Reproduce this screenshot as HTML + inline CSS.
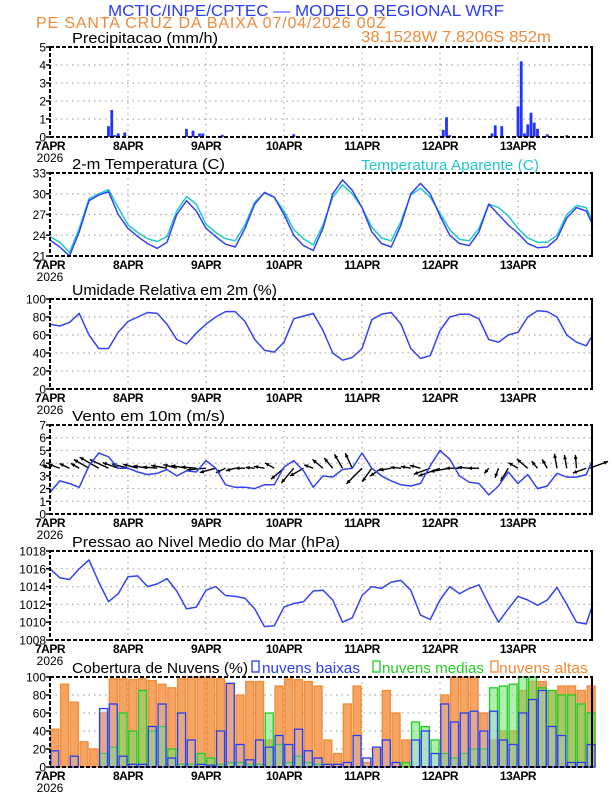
<!DOCTYPE html>
<html><head><meta charset="utf-8"><style>
html,body{margin:0;padding:0;background:#fff;}
svg{display:block;font-family:"Liberation Sans",sans-serif;}
</style></head><body>
<svg id="chart" width="612" height="792" viewBox="0 0 612 792" xmlns="http://www.w3.org/2000/svg">
<text x="108" y="16" font-size="16" fill="#2b3cf5" textLength="396" lengthAdjust="spacingAndGlyphs">MCTIC/INPE/CPTEC — MODELO REGIONAL WRF</text>
<text x="36" y="28" font-size="16" fill="#f08a3a" textLength="350" lengthAdjust="spacing">PE SANTA CRUZ DA BAIXA   07/04/2026 00Z</text>
<text x="361" y="42" font-size="16" fill="#f08a3a" textLength="190" lengthAdjust="spacingAndGlyphs">38.1528W 7.8206S 852m</text>
<g id="layer"></g>
</svg>
<script>
// ---- data (3-hourly from 07APR 00Z) ----
const tempHours = [0,3,6,9,12,15,18,21,24,27,30,33,36,39,42,45,48,51,54,57,60,63,66,69,72,75,78,81,84,87,90,93,96,99,102,105,108,111,114,117,120,123,126,129,132,135,138,141,144,147,150,153,156,159,162,165,168];
const temp2m = [23.3,22.3,21.0,24.5,29.0,29.8,30.3,27.0, 25.0,23.8,22.8,22.1,23.0,27.0,29.0,27.5, 25.0,23.8,22.7,22.3,25.0,28.5,30.2,29.5, 27.0,24.0,22.5,21.8,25.0,30.0,32.0,30.5, 28.0,24.5,22.8,22.3,25.5,30.0,31.5,30.0, 26.8,24.0,22.8,22.5,24.5,28.5,27.0,25.5, 24.3,22.8,22.2,22.3,23.5,26.5,28.0,27.5, 25.5];
const tempApparent = [23.8,23.0,21.5,25.0,29.3,30.0,30.6,28.0, 25.5,24.4,23.5,23.1,23.8,27.5,29.6,28.5, 25.6,24.4,23.5,23.2,25.5,28.8,30.1,29.5, 27.5,24.8,23.5,22.6,25.5,29.5,31.3,30.0, 28.0,25.2,23.6,23.2,26.0,29.8,30.8,29.5, 27.2,24.8,23.4,23.2,25.0,28.5,28.0,26.8, 25.0,23.6,23.0,23.0,24.0,27.0,28.3,28.0, 26.0];
const humidity = [72,70,74,84,60,45,45,63, 75,80,85,84,72,55,50,62, 72,80,86,86,75,55,43,41, 52,78,81,84,65,40,32,35, 45,77,83,85,72,45,34,37, 65,80,83,83,78,55,52,60, 63,80,87,86,80,60,52,48, 60];
const windSpeed = [1.7,2.6,2.4,2.1,3.8,4.8,4.5,3.6, 3.6,3.3,3.1,3.2,3.5,3.0,3.4,3.3, 4.2,3.6,2.3,2.1,2.1,2.0,2.3,2.3, 3.7,4.2,3.4,2.1,3.0,2.9,3.5,3.6, 4.8,3.6,3.0,2.6,2.3,2.2,2.4,3.8, 5.0,4.3,3.0,2.5,2.4,1.5,2.2,3.3, 2.4,3.1,2.0,2.2,3.2,2.9,2.9,3.1, 4.3];
const windDir = [160,160,155,150,150,150,155,160, 165,165,170,175,170,165,170,175, 185,195,205,195,180,175,170,150, 220,230,210,160,140,130,120,115, 225,235,215,190,175,170,165,200, 200,190,180,175,180,230,250,240, 150,140,130,120,100,100,95,200, 20];
const pressure = [1016,1015,1014.8,1016,1017,1014.5,1012.3,1013.2, 1015.1,1015.2,1014,1014.3,1014.9,1013.5,1011.5,1011.7, 1013.6,1014,1013,1012.9,1012.7,1011.5,1009.5,1009.6, 1011.7,1012.1,1012.3,1013.5,1013.6,1012.5,1010,1010.5, 1013,1014,1013.8,1014.5,1014.7,1013.6,1010.8,1010.3, 1012.5,1014,1013.2,1013.8,1014.2,1012,1010,1011.5, 1012.9,1012.5,1011.9,1012.5,1013.9,1012,1010,1009.8, 1012];
const precipHours = [18,19,20,21,23,36,42,44,46,47,53,60,75,84,121,122,123,136,137,139,144,145,146,147,148,149,150,152,153,159];
const precipVals = [0.6,1.5,0.1,0.2,0.25,0.05,0.45,0.35,0.2,0.2,0.12,0.06,0.15,0.05,0.4,1.1,0.1,0.2,0.65,0.6,1.7,4.2,0.2,0.7,1.35,0.8,0.45,0.05,0.15,0.1];
const cloudHours = [0,3,6,9,12,15,18,21,24,27,30,33,36,39,42,45,48,51,54,57,60,63,66,69,72,75,78,81,84,87,90,93,96,99,102,105,108,111,114,117,120,123,126,129,132,135,138,141,144,147,150,153,156,159,162,165];
const cloudHigh = [42,92,72,28,20,60,98,98, 97,98,96,92,88,98,100,100, 100,98,92,80,95,95,30,90, 98,97,95,90,30,15,70,90, 5,20,85,60,30,0,0,0, 80,100,100,100,60,30,40,40, 85,95,95,85,90,90,85,90];
const cloudMid = [0,0,0,0,0,15,22,60, 40,85,40,45,20,3,3,15, 10,3,5,5,3,3,60,25, 5,12,5,3,0,0,0,0, 0,0,0,0,5,50,45,30, 15,10,15,20,20,88,90,92, 100,100,88,85,80,80,70,60];
const cloudLow = [18,0,12,0,0,65,70,12, 3,3,45,70,10,60,30,3, 2,40,93,25,8,30,22,35, 25,42,18,10,3,3,5,35, 10,22,30,5,0,30,40,15, 70,50,60,62,40,62,30,25, 60,75,85,45,35,5,5,25];
const dayLabels = ["7APR","8APR","9APR","10APR","11APR","12APR","13APR"];

// ---- layout ----
const X0 = 50, X1 = 592, PX_PER_H = 3.25;
const xs = h => X0 + h * PX_PER_H;
const NS = "http://www.w3.org/2000/svg";
const layer = document.getElementById("layer");
function mk(tag, attrs, parent) {
  const e = document.createElementNS(NS, tag);
  for (const k in attrs) e.setAttribute(k, attrs[k]);
  (parent || layer).appendChild(e);
  return e;
}
const panels = [
  {key:"precip", top:47, bottom:137, min:0, max:5, ticks:[0,1,2,3,4,5]},
  {key:"temp", top:173, bottom:256, min:21, max:33, ticks:[21,24,27,30,33]},
  {key:"humidity", top:299, bottom:389, min:0, max:100, ticks:[0,20,40,60,80,100]},
  {key:"wind", top:425, bottom:514, min:0, max:7, ticks:[0,1,2,3,4,5,6,7]},
  {key:"pressure", top:551, bottom:640, min:1008, max:1018, ticks:[1008,1010,1012,1014,1016,1018]},
  {key:"clouds", top:677, bottom:767, min:0, max:100, ticks:[0,20,40,60,80,100]}
];
const titles = ["Precipitacao (mm/h)","2-m Temperatura (C)","Umidade Relativa em 2m (%)","Vento em 10m (m/s)","Pressao ao Nivel Medio do Mar (hPa)","Cobertura de Nuvens (%)"];
const titleW = [146,153,205,153,268,176];
function yScale(p){ return v => p.bottom - (v - p.min) / (p.max - p.min) * (p.bottom - p.top); }

panels.forEach((p, i) => {
  const ys = yScale(p);
  const g = mk("g", {});
  
  
  p.ticks.forEach(t => {
    if (t === p.min || t === p.max) return;
    const l = mk("line", {x1:X0, x2:X1, y1:ys(t), y2:ys(t), stroke:"#aaa", "stroke-dasharray":"1.5,4", "stroke-width":1.2}, g);
    
    
  });
  for (let d = 1; d < 7; d++) {
    const l = mk("line", {x1:xs(d*24), x2:xs(d*24), y1:p.top, y2:p.bottom, stroke:"#aaa", "stroke-dasharray":"1.5,4", "stroke-width":1.2}, g);
    
    
  }
  p.ticks.forEach(t => {
    const tx = mk("text", {x:46, y:ys(t)+4.5, "text-anchor":"end", "font-size":12}, g);
    tx.textContent = t;
    
    
    const tk = mk("line", {x1:X0-4, x2:X0, y1:ys(t), y2:ys(t), stroke:"#000", "stroke-width":1.5}, g);
    
    
  });
  dayLabels.forEach((lab, d) => {
    const tx = mk("text", {x:xs(d*24), y:p.bottom+13, "text-anchor":"middle", "font-size":12, "font-weight":"bold", "letter-spacing":"-0.5"}, g);
    tx.textContent = lab;
    
    
  });
  const yr = mk("text", {x:X0, y:p.bottom+25, "text-anchor":"middle", "font-size":12}, g);
  yr.textContent = "2026";
  
  
  const tt = mk("text", {x:72, y:p.top-4, "font-size":15, textLength:titleW[i], lengthAdjust:"spacingAndGlyphs"}, g);
  tt.textContent = titles[i];
  
  
  p.g = g; p.ys = ys;
});

function line(p, hours, vals, color, name) {
  const pts = hours.map((h, i) => xs(Math.min(h, 167)) + "," + p.ys(vals[i]).toFixed(1)).join(" ");
  const pl = mk("polyline", {points:pts, fill:"none", stroke:color, "stroke-width":1.5, "stroke-linejoin":"round"}, p.g);
  
  
}

const P = panels;
precipHours.forEach((h, i) => {
  const y = P[0].ys(precipVals[i]);
  const r = mk("rect", {x:xs(h)-1.4, y:y, width:2.8, height:P[0].bottom - y, fill:"#2233ff"}, P[0].g);
  
  
});
line(P[1], tempHours, tempApparent, "#22c8c8", "apparent-temperature-line");
line(P[1], tempHours, temp2m, "#3344ee", "temperature-line");
const at = mk("text", {x:361, y:170, "font-size":15, fill:"#22c8c8", textLength:178, lengthAdjust:"spacingAndGlyphs"}, P[1].g);
at.textContent = "Temperatura Aparente (C)";


line(P[2], tempHours, humidity, "#3344ee", "humidity-line");
const baseY = P[3].ys(3.6);
tempHours.forEach((h, i) => {
  const x = xs(Math.min(h, 166));
  const len = windSpeed[i] * 4.6;
  const a = windDir[i] * Math.PI / 180;
  const x2 = x + len * Math.cos(a), y2 = baseY - len * Math.sin(a);
  const ar = mk("line", {x1:x, y1:baseY, x2:x2, y2:y2, stroke:"#000", "stroke-width":1.4}, P[3].g);
  
  
  const hx1 = x2 - 4.5*Math.cos(a-0.45), hy1 = y2 + 4.5*Math.sin(a-0.45);
  const hx2 = x2 - 4.5*Math.cos(a+0.45), hy2 = y2 + 4.5*Math.sin(a+0.45);
  const hd = mk("polygon", {points:`${x2},${y2} ${hx1},${hy1} ${hx2},${hy2}`, fill:"#000"}, P[3].g);
  
  
});
line(P[3], tempHours, windSpeed, "#3344ee", "wind-speed-line");
line(P[4], tempHours, pressure, "#3344ee", "pressure-line");
function bars(vals, fill, stroke, name) {
  cloudHours.forEach((h, i) => {
    const y = P[5].ys(vals[i]);
    if (vals[i] <= 0) return;
    const r = mk("rect", {x:xs(h)+0.8, y:y, width:8, height:P[5].bottom - y, fill:fill, stroke:stroke, "stroke-width":1.3}, P[5].g);
    
    
  });
}
bars(cloudHigh, "#f5a463", "#f08a35", "high-cloud-bar");
bars(cloudMid, "rgba(110,225,110,0.55)", "#22cc22", "mid-cloud-bar");
bars(cloudLow, "rgba(170,180,255,0.25)", "#2a3cf0", "low-cloud-bar");
const legend = [["nuvens baixas","#2a3cf0",252,262,98],["nuvens medias","#22cc22",373,382,102],["nuvens altas","#f08a35",491,499,89]];
legend.forEach(l => {
  const b = mk("rect", {x:l[2], y:661, width:7, height:11, fill:"none", stroke:l[1], "stroke-width":1.3}, P[5].g);
  
  
  const t = mk("text", {x:l[3], y:673, "font-size":15, fill:l[1], textLength:l[4], lengthAdjust:"spacingAndGlyphs"}, P[5].g);
  t.textContent = l[0];
  
  
});
panels.forEach(p => {
  const f = mk("rect", {x:X0, y:p.top, width:X1-X0, height:p.bottom-p.top, fill:"none", stroke:"#000", "stroke-width":2, "stroke-dasharray":"4,2"}, p.g);
  
  
  const r = mk("line", {x1:X1, x2:X1, y1:p.top, y2:p.bottom, stroke:"#000", "stroke-width":2}, p.g);
  
  
});
</script>
</body></html>
